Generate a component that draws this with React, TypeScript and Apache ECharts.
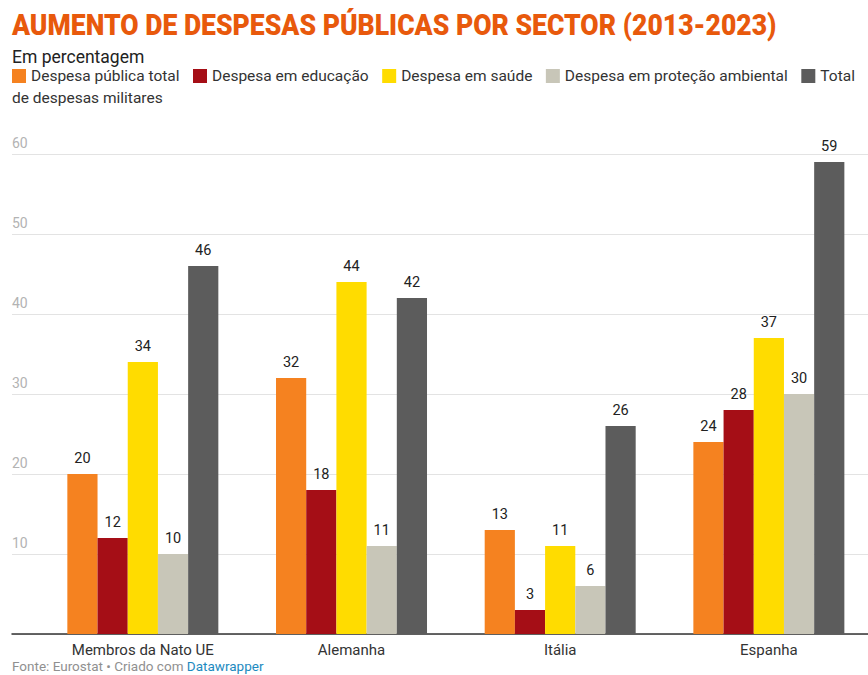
import React, { useEffect, useRef } from "react";
import * as echarts from "echarts";

const categories = ["Membros da Nato UE", "Alemanha", "Itália", "Espanha"];
const seriesNames = [
  "Despesa pública total",
  "Despesa em educação",
  "Despesa em saúde",
  "Despesa em proteção ambiental",
  "Total de despesas militares",
];
const totalPublic = [20, 32, 13, 24];
const education = [12, 18, 3, 28];
const health = [34, 44, 11, 37];
const environment = [10, 11, 6, 30];
const military = [46, 42, 26, 59];
const colors = ["#f58220", "#a50e16", "#ffdc00", "#c8c6b8", "#5c5c5c"];

const FONT = "Roboto, 'Noto Sans', sans-serif";

export default function App() {
  const ref = useRef<HTMLDivElement>(null);
  useEffect(() => {
    if (!ref.current) return;
    const chart = echarts.init(ref.current, null, { renderer: "svg" });
    const values = [totalPublic, education, health, environment, military];
    chart.setOption({
      animation: false,
      backgroundColor: "#ffffff",
      textStyle: { fontFamily: FONT },
      title: [
        {
          text: "Em percentagem",
          left: 12,
          top: 48,
          padding: 0,
          textStyle: { fontSize: 17.5, fontWeight: "normal", color: "#222", fontFamily: FONT },
        },
        {
          text: "{g|Fonte: Eurostat • Criado com }{b|Datawrapper}",
          left: 12,
          top: 659,
          padding: 0,
          textStyle: {
            fontWeight: "normal",
            rich: {
              g: { fontSize: 13.5, fontWeight: "normal", color: "#909090", fontFamily: FONT },
              b: { fontSize: 13.5, fontWeight: "normal", color: "#1d8ac0", fontFamily: FONT },
            },
          },
        },
      ],
      graphic: [
        {
          type: "text",
          x: 12,
          y: 11,
          scaleX: 0.916,
          style: {
            text: "AUMENTO DE DESPESAS PÚBLICAS POR SECTOR (2013-2023)",
            font: "900 29px Roboto",
            fill: "#e8590c",
          },
        },
        {
          type: "text",
          x: 12,
          y: 90,
          style: {
            text: "de despesas militares",
            font: "15.5px Roboto",
            fill: "#333",
          },
        },
      ],
      legend: {
        left: 12,
        top: 68,
        width: 860,
        padding: 0,
        itemWidth: 14,
        itemHeight: 14,
        itemGap: 13.5,
        icon: "rect",
        textStyle: { fontSize: 15.5, color: "#333", fontFamily: FONT },
        formatter: (name: string) => (name === seriesNames[4] ? "Total" : name),
        data: seriesNames,
      },
      grid: [
        { left: 38.5, top: 154, width: 834.7, bottom: 41 },
        { left: 12, top: 154, right: 12, bottom: 41 },
      ],
      xAxis: [
        {
          type: "category",
          gridIndex: 0,
          data: categories,
          axisLine: { show: false },
          axisTick: { show: false },
          axisLabel: { margin: 8, fontSize: 15, color: "#333", fontFamily: FONT },
        },
        {
          type: "value",
          gridIndex: 1,
          min: 0,
          max: 1,
          axisLine: { show: true, lineStyle: { color: "#333", width: 1.5 } },
          axisTick: { show: false },
          axisLabel: { show: false },
          splitLine: { show: false },
        },
      ],
      yAxis: [
        { type: "value", gridIndex: 0, min: 0, max: 60, show: false },
        {
          type: "value",
          gridIndex: 1,
          min: 0,
          max: 60,
          interval: 10,
          axisLine: { show: false },
          axisTick: { show: false },
          splitLine: { lineStyle: { color: "#e3e3e3", width: 1 } },
          axisLabel: {
            inside: true,
            showMinLabel: false,
            margin: 0,
            align: "left",
            verticalAlign: "bottom",
            padding: [0, 0, 4, 0],
            fontSize: 14,
            color: "#b3b3b3",
            fontFamily: FONT,
          },
        },
      ],
      series: seriesNames.map((name, i) => ({
        name,
        type: "bar",
        xAxisIndex: 0,
        yAxisIndex: 0,
        data: values[i],
        barWidth: 30.2,
        barGap: "0%",
        itemStyle: { color: colors[i] },
        label: {
          show: true,
          position: "top",
          distance: 8,
          fontSize: 14.5,
          fontWeight: "normal",
          color: "#222",
          fontFamily: FONT,
        },
        z: 3,
      })),
    });
    return () => chart.dispose();
  }, []);
  return (
    <div
      style={{
        position: "fixed",
        left: 0,
        top: 0,
        width: 868,
        height: 675,
        overflow: "hidden",
        background: "#fff",
      }}
    >
      <div ref={ref} style={{ width: 880, height: 675 }} />
    </div>
  );
}
